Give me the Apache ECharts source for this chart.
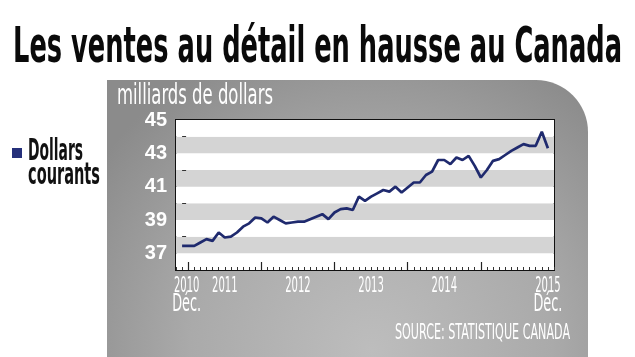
<!DOCTYPE html>
<html><head><meta charset="utf-8">
<script src="https://cdn.jsdelivr.net/npm/echarts@6/dist/echarts.min.js"></script>
<style>html,body{margin:0;padding:0;background:#fff}#c{width:635px;height:357px}</style>
</head><body><div id="c"></div>
<script>
// ---- data ----
const months = [
 '2010-12',
 '2011-01','2011-02','2011-03','2011-04','2011-05','2011-06','2011-07','2011-08','2011-09','2011-10','2011-11','2011-12',
 '2012-01','2012-02','2012-03','2012-04','2012-05','2012-06','2012-07','2012-08','2012-09','2012-10','2012-11','2012-12',
 '2013-01','2013-02','2013-03','2013-04','2013-05','2013-06','2013-07','2013-08','2013-09','2013-10','2013-11','2013-12',
 '2014-01','2014-02','2014-03','2014-04','2014-05','2014-06','2014-07','2014-08','2014-09','2014-10','2014-11','2014-12',
 '2015-01','2015-02','2015-03','2015-04','2015-05','2015-06','2015-07','2015-08','2015-09','2015-10','2015-11','2015-12'
];
const dollarsCourants = [
 37.45,
 37.45,37.45,37.65,37.85,37.75,38.25,37.95,38.0,38.25,38.6,38.8,39.15,
 39.1,38.85,39.2,39.0,38.8,38.85,38.9,38.9,39.05,39.2,39.35,39.05,
 39.45,39.65,39.7,39.6,40.4,40.15,40.4,40.6,40.8,40.7,41.0,40.65,
 40.95,41.25,41.25,41.7,41.9,42.6,42.6,42.35,42.75,42.6,42.85,42.25,
 41.55,42.0,42.55,42.65,42.9,43.15,43.35,43.55,43.45,43.45,44.3,43.3
];
const seriesName = 'Dollars courants';
const yTickLabels = [37, 39, 41, 43, 45];
const yMinorTicks = [38, 40, 42, 44];
const yearTickMonths = ['2011-01','2012-01','2013-01','2014-01','2015-01'];
const yearLabelYear = ['2010','2011','2012','2013','2014','2015'];
const yearLabelMonthName = ['Déc.','','','','','Déc.'];
const yearLabelMonths = ['2010-12','2011-07','2012-07','2013-07','2014-07','2015-12'];
const titleText = 'Les ventes au détail en hausse au Canada';
const unitText = 'milliards de dollars';
const sourceText = 'SOURCE: STATISTIQUE CANADA';

// ---- build ----
const FN = "'Liberation Sans Narrow','Arial Narrow','DejaVu Sans Condensed','Liberation Sans',sans-serif";
const idx = m => months.indexOf(m);
const majorTicks = yearTickMonths.map(idx);

const mctx = document.createElement('canvas').getContext('2d');
function fitScale(text, font, w) { mctx.font = font; return w / mctx.measureText(text).width; }

function stretchedText(id, text, font, x, y, w, fill, align) {
  return {
    id: id, type: 'text', x: x, y: y, scaleX: fitScale(text, font, w), z: 10,
    style: { text: text, font: font, fill: fill, align: align || 'left', verticalAlign: 'top' }
  };
}

const chart = echarts.init(document.getElementById('c'), null, { renderer: 'canvas' });
const titleFont = 'bold 50px ' + FN;
const unitFont = '28px ' + FN;
const srcFont = '22px ' + FN;
const legFont = 'bold 30px ' + FN;
const yearFont = '21px ' + FN;
const decFont = '24px ' + FN;

chart.setOption({
  animation: false,
  backgroundColor: '#ffffff',
  graphic: [
    { id: 'panel', type: 'rect', z: -10, shape: { x: 107, y: 80, width: 481, height: 300, r: [0, 52, 0, 0] },
      style: { fill: new echarts.graphic.RadialGradient(0.55, 0.9, 1.1, [
        { offset: 0, color: '#bdbdbd' }, { offset: 0.55, color: '#aaaaaa' }, { offset: 1, color: '#8b8b8b' }]) } },
    stretchedText('title', titleText, titleFont, 13, 24, 609, '#0a0a0a'),
    stretchedText('unit', unitText, unitFont, 117, 83, 156, '#ffffff'),
    stretchedText('src', sourceText, srcFont, 395, 322, 175, '#ffffff'),
    { id: 'legIcon', type: 'rect', shape: { x: 12, y: 148, width: 10, height: 10 }, style: { fill: '#25307a' } },
    stretchedText('leg1', 'Dollars', legFont, 28, 137, 55, '#111111'),
    stretchedText('leg2', 'courants', legFont, 28, 161, 72, '#111111')
  ],
  grid: { left: 176, top: 120, width: 378, height: 150, show: true, backgroundColor: '#ffffff',
          borderColor: '#111111', borderWidth: 2 },
  xAxis: [
    { type: 'value', min: -1, max: 61, interval: 1,
      axisLine: { show: false },
      axisTick: { show: true, inside: true, length: 3, lineStyle: { color: '#333', width: 1 } },
      axisLabel: { show: false }, splitLine: { show: false } },
    { type: 'value', min: -1, max: 61, position: 'bottom',
      axisLine: { show: false },
      axisTick: { show: true, inside: true, length: 8, customValues: majorTicks, lineStyle: { color: '#222', width: 1.2 } },
      axisLabel: { show: false },
      splitLine: { show: false } }
  ],
  yAxis: [
    { type: 'value', min: 36, max: 45, interval: 1,
      axisLine: { show: false },
      axisTick: { show: false },
      axisLabel: { customValues: yTickLabels, color: '#fff', fontFamily: 'Liberation Sans', fontWeight: 'bold', fontSize: 20, margin: 9 },
      splitLine: { show: false },
      splitArea: { show: true, areaStyle: { color: ['#ffffff', '#d4d4d4'] } } },
    { type: 'value', min: 36, max: 45, position: 'left',
      axisLine: { show: false },
      axisTick: { show: true, inside: true, length: 4, customValues: yMinorTicks, lineStyle: { color: '#333' } },
      axisLabel: { show: false }, splitLine: { show: false }, splitArea: { show: false } }
  ],
  series: [{
    name: seriesName, type: 'line', xAxisIndex: 0, yAxisIndex: 0, symbol: 'none',
    lineStyle: { color: '#1f2a6e', width: 2.7 },
    data: dollarsCourants.map((v, i) => [i, v]), z: 5
  }]
});

// x-axis year labels positioned through the x scale
const extra = [];
yearLabelMonths.forEach(function (m, k) {
  let v = idx(m) + (k === 0 ? 0.75 : 0);
  const px = chart.convertToPixel({ xAxisIndex: 0 }, v);
  extra.push(stretchedText('yl' + k, yearLabelYear[k], yearFont, px, 276, 25.5, '#ffffff', 'center'));
  if (yearLabelMonthName[k]) {
    extra.push(stretchedText('ml' + k, yearLabelMonthName[k], decFont, px, 293, 29, '#ffffff', 'center'));
  }
});
chart.setOption({ graphic: extra });
</script></body></html>
